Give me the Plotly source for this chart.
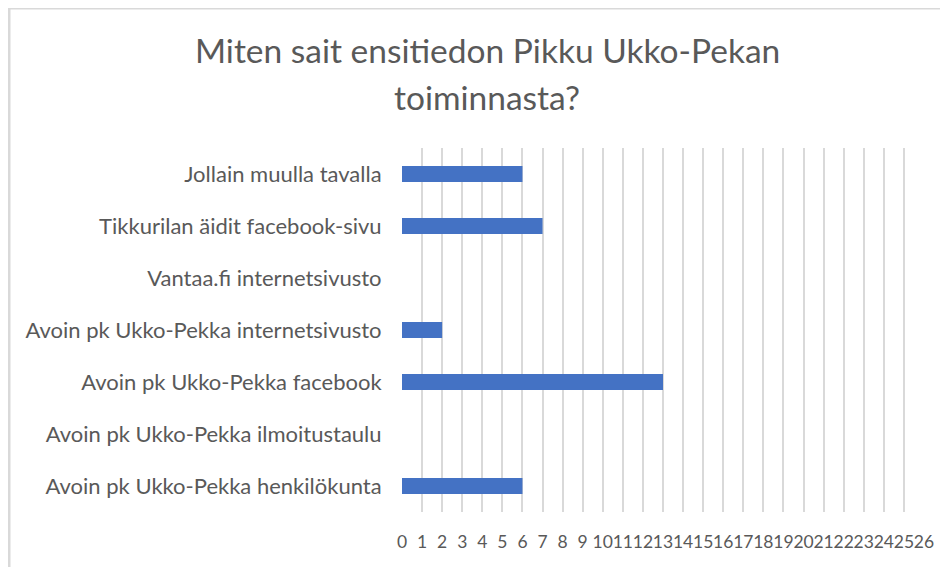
import plotly.graph_objects as go

categories = [
    "Avoin pk Ukko-Pekka henkilökunta",
    "Avoin pk Ukko-Pekka ilmoitustaulu",
    "Avoin pk Ukko-Pekka facebook",
    "Avoin pk Ukko-Pekka internetsivusto",
    "Vantaa.fi internetsivusto",
    "Tikkurilan äidit facebook-sivu",
    "Jollain muulla tavalla",
]
values = [6, 0, 13, 2, 0, 7, 6]
x_ticks = list(range(0, 27))
title_lines = ["Miten sait ensitiedon Pikku Ukko-Pekan", "toiminnasta?"]

OFF = 8  # page body margin
W, H = 948 - OFF, 567 - OFF
ml, mt = 402 - OFF, 148 - OFF
mr = W - (924 - OFF)
mb = H - (512 - OFF)
pw, ph = W - ml - mr, H - mt - mb

fig = go.Figure(go.Bar(
    x=values, y=categories, orientation="h",
    marker=dict(color="#4472C4", line=dict(width=0)),
))

font_family = "Lato, Liberation Sans, sans-serif"
gray = "#595959"

fig.update_layout(
    width=W, height=H,
    margin=dict(l=ml, r=mr, t=mt, b=mb, autoexpand=False),
    paper_bgcolor="white", plot_bgcolor="white",
    bargap=0.69,
    showlegend=False,
    font=dict(family=font_family, color=gray),
    xaxis=dict(
        range=[0, 26], tickvals=x_ticks, ticktext=[str(v) for v in x_ticks],
        tickangle=0, automargin=False,
        showgrid=True, gridcolor="#D9D9D9", gridwidth=2,
        zeroline=False, showline=False,
        ticks="outside", ticklen=14, tickcolor="rgba(0,0,0,0)",
        tickfont=dict(size=17.5, color=gray, family=font_family),
        fixedrange=True,
    ),
    yaxis=dict(
        categoryorder="array", categoryarray=categories,
        automargin=False,
        showgrid=False, zeroline=False, showline=False,
        ticks="outside", ticklen=15, tickcolor="rgba(0,0,0,0)",
        tickfont=dict(size=22, color=gray, family=font_family),
        fixedrange=True,
    ),
)

# chart border (Excel chart area)
bx0 = (9 - OFF - ml) / pw
by1 = 1 + (mt - 0) / ph
fig.add_shape(type="rect", xref="paper", yref="paper",
              x0=bx0, x1=1 + (mr + 20) / pw, y0=-(mb + 20) / ph, y1=by1,
              line=dict(color="#D9D9D9", width=3), layer="below")

cx = (487 - OFF - ml) / pw
for i, (txt, ypx) in enumerate(zip(title_lines, [50, 97])):
    fig.add_annotation(
        text=txt, xref="paper", yref="paper",
        x=cx, y=1 + (mt - (ypx - OFF)) / ph, xanchor="center", yanchor="middle",
        showarrow=False, font=dict(size=33.5, color=gray, family=font_family),
    )

fig.write_html("out.html")
